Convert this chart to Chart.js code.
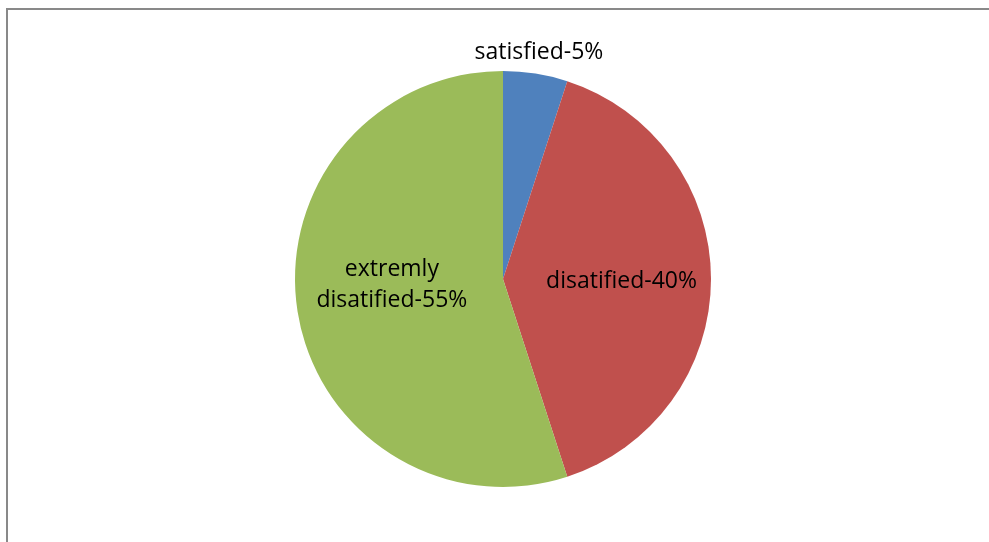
<!DOCTYPE html>
<html>
<head>
<meta charset="utf-8">
<script src="https://cdn.jsdelivr.net/npm/chart.js@4/dist/chart.umd.min.js"></script>
<style>
    html, body { margin: 0; padding: 0; background: #fff; overflow: hidden; }
    .frame {
        position: absolute; left: 6px; top: 8px; width: 1200px; height: 800px;
        border: 2px solid #898989; box-sizing: border-box;
    }
    .wrap { position: absolute; left: 0; top: 0; width: 989px; height: 542px; }
</style>
</head>
<body>
<div class="frame"></div>
<div class="wrap"><canvas id="satisfaction"></canvas></div>
<script>
const categories = ['satisfied', 'disatified', 'extremly disatified']
const shares = [5, 40, 55]
const labelLines = [['satisfied-5%'], ['disatified-40%'], ['extremly', 'disatified-55%']]
const sliceColors = ['#4F81BD', '#C0504D', '#9BBB59']

// radial distance (fraction of radius) and angle nudge (degrees) for each label
const labelPlacement = [
    { r: 1.105, a: 0 },
    { r: 0.57, a: 1 },
    { r: 0.535, a: 6 }
]

const sliceLabels = {
    id: 'sliceLabels',
    afterDatasetsDraw(chart) {
        const ctx = chart.ctx
        const arcs = chart.getDatasetMeta(0).data
        ctx.save()
        ctx.font = '23px "Open Sans", sans-serif'
        ctx.fillStyle = '#000'
        ctx.textAlign = 'center'
        ctx.textBaseline = 'middle'
        arcs.forEach((arc, i) => {
            const p = arc.getProps(['x', 'y', 'startAngle', 'endAngle', 'outerRadius'], true)
            const mid = (p.startAngle + p.endAngle) / 2 + labelPlacement[i].a * Math.PI / 180
            const dist = p.outerRadius * labelPlacement[i].r
            const cx = p.x + Math.cos(mid) * dist
            const cy = p.y + Math.sin(mid) * dist
            const lines = labelLines[i]
            const lh = 31
            lines.forEach((t, k) => {
                ctx.fillText(t, cx, cy + (k - (lines.length - 1) / 2) * lh)
            })
        })
        ctx.restore()
    }
}

new Chart(document.getElementById('satisfaction').getContext('2d'), {
    type: 'pie',
    data: {
        labels: categories,
        datasets: [{
            data: shares,
            backgroundColor: sliceColors,
            borderWidth: 0
        }]
    },
    options: {
        responsive: true,
        maintainAspectRatio: false,
        animation: false,
        layout: { padding: { left: 295, right: 278, top: 71, bottom: 55 } },
        plugins: {
            legend: { display: false },
            tooltip: { enabled: false }
        }
    },
    plugins: [sliceLabels]
})
</script>
</body>
</html>
